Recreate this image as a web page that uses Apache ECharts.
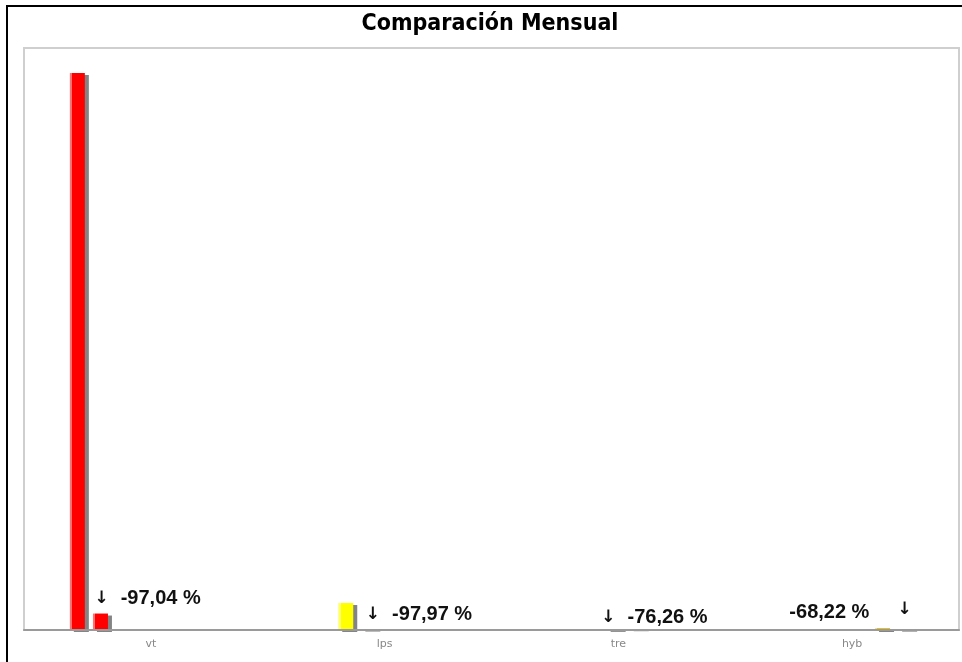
<!DOCTYPE html>
<html>
<head>
<meta charset="utf-8">
<script src="https://cdn.jsdelivr.net/npm/echarts@6/dist/echarts.min.js"></script>
<style>
html,body{margin:0;padding:0;background:#fff;}
#chart{width:962px;height:662px;}
</style>
</head>
<body>
<div id="chart"></div>
<script>
// ---- data ----
const categories = ['vt', 'lps', 'tre', 'hyb'];
const previousMonth = [9570, 464, 15, 34];
const currentMonth = [283, 9.4, 3.6, 10.8];
const changeLabels = ['-97,04 %', '-97,97 %', '-76,26 %', '-68,22 %'];

// ---- styling (not data) ----
const prevColors = ['#ff0000', '#ffff00', '#b8b8b8', '#e8c21a'];
const curColors = ['#ff0000', '#ffff00', '#b8b8b8', '#a8a8a8'];

function barStyle(c) {
  return {
    color: {
      type: 'linear', x: 0, y: 0, x2: 1, y2: 0,
      colorStops: [
        {offset: 0, color: echarts.color.lift(c, 0.45)},
        {offset: 0.16, color: echarts.color.lift(c, 0.45)},
        {offset: 0.16, color: c},
        {offset: 1, color: c}
      ]
    },
    shadowColor: 'rgba(110,110,110,0.85)',
    shadowOffsetX: 4,
    shadowOffsetY: 2,
    shadowBlur: 0
  };
}

const richStyles = {
  t: {fontFamily: 'Liberation Sans', fontWeight: 'bold', fontSize: 20, color: '#111'},
  a: {fontFamily: 'DejaVu Sans', fontWeight: 'bold', fontSize: 17, color: '#111', padding: [0, 12, 0, 0]},
  ar: {fontFamily: 'DejaVu Sans', fontWeight: 'bold', fontSize: 17, color: '#111', padding: [0, 0, 6, 28]}
};

function labelFor(i) {
  const base = {show: true, position: 'top', rich: richStyles};
  if (i === categories.length - 1) {
    return Object.assign(base, {
      align: 'right',
      offset: [6, 0],
      formatter: '{t|' + changeLabels[i] + '}{ar|↓}'
    });
  }
  const dx = i === 2 ? -36 : (i === 1 ? -3 : -6);
  const dy = i === 2 ? 3 : 0;
  return Object.assign(base, {
    align: 'left',
    offset: [dx, dy],
    formatter: '{a|↓}{t|' + changeLabels[i] + '}'
  });
}

const BAR_W = 15;
const BAR_GAP = '-23%';
const series = [];
categories.forEach(function (cat, i) {
  series.push({
    type: 'bar', name: cat + '-prev',
    barWidth: BAR_W, barGap: BAR_GAP,
    itemStyle: barStyle(prevColors[i]),
    data: categories.map(function (_, j) { return j === i ? previousMonth[i] : '-'; })
  });
  series.push({
    type: 'bar', name: cat + '-gap',
    barWidth: BAR_W, barGap: BAR_GAP,
    data: categories.map(function () { return '-'; })
  });
  series.push({
    type: 'bar', name: cat + '-cur',
    barWidth: BAR_W, barGap: BAR_GAP,
    itemStyle: barStyle(curColors[i]),
    label: labelFor(i),
    data: categories.map(function (_, j) { return j === i ? currentMonth[i] : '-'; })
  });
});

const chart = echarts.init(document.getElementById('chart'), null, {renderer: 'canvas'});
chart.setOption({
  backgroundColor: '#ffffff',
  animation: false,
  title: {
    text: 'Comparación Mensual',
    left: 485,
    textAlign: 'center',
    top: 8,
    textStyle: {
      fontFamily: 'DejaVu Sans Condensed',
      fontWeight: 'bold',
      fontSize: 23,
      color: '#000'
    }
  },
  grid: {
    left: 24, right: 3, top: 48, bottom: 32,
    show: true,
    borderColor: '#cfcfcf',
    borderWidth: 2,
    backgroundColor: '#ffffff'
  },
  xAxis: {
    type: 'category',
    data: categories,
    z: 10,
    axisLine: {show: true, lineStyle: {color: '#9a9a9a', width: 2}},
    axisTick: {show: false},
    axisLabel: {
      color: '#888',
      fontSize: 11,
      fontFamily: 'DejaVu Sans',
      margin: 9,
      padding: [0, 0, 0, 20]
    }
  },
  yAxis: {
    type: 'value',
    min: 0,
    max: 10000,
    show: false,
    splitLine: {show: false}
  },
  graphic: [{
    type: 'rect',
    silent: true,
    shape: {x: 7, y: 6, width: 1000, height: 700},
    style: {fill: 'none', stroke: '#000', lineWidth: 2}
  }],
  series: series
});
</script>
</body>
</html>
